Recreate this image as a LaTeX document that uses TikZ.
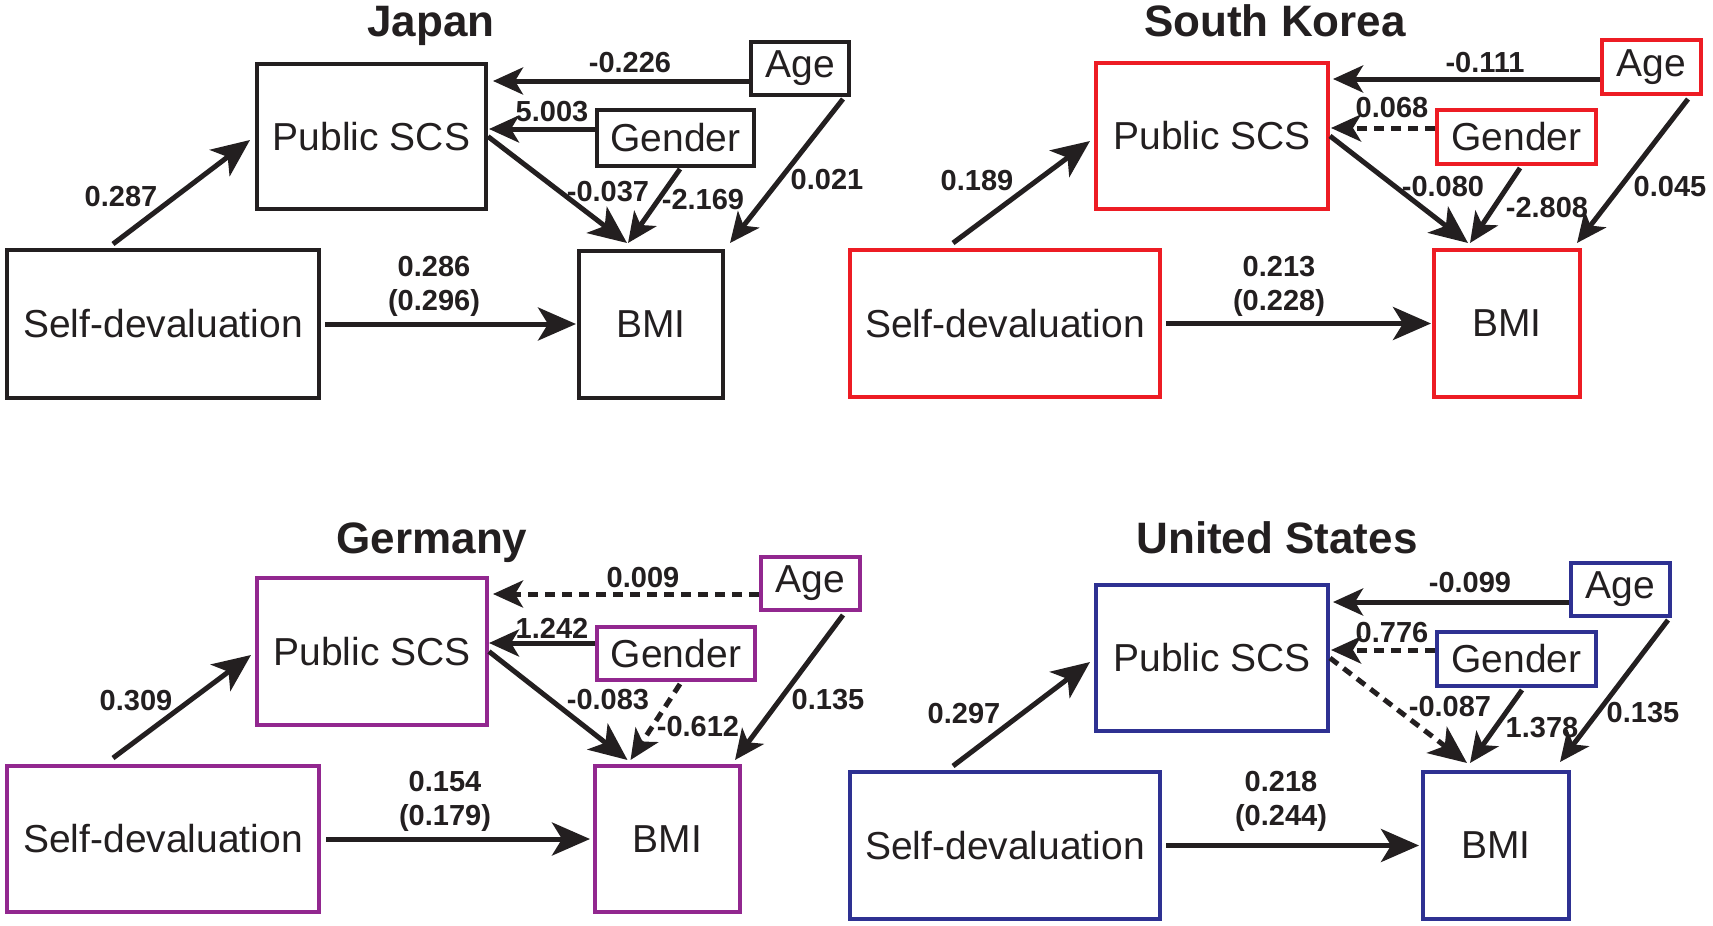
\documentclass[tikz,border=0pt]{standalone}
\usepackage{fontspec}
\setmainfont{Liberation Sans}
\usetikzlibrary{arrows.meta,calc}
\definecolor{ink}{HTML}{231F20}
\definecolor{jc}{HTML}{231F20}
\definecolor{kc}{HTML}{ED1C24}
\definecolor{gc}{HTML}{92278F}
\definecolor{uc}{HTML}{2E3192}
\tikzset{
  bx/.style={draw, line width=4pt, inner sep=0pt, text=ink, font=\fontsize{39}{44}\selectfont},
  arr/.style={draw=ink, line width=5pt, -{Stealth[length=30pt,width=27pt,inset=8pt]}},
  big/.style={draw=ink, line width=5pt, -{Stealth[length=38pt,width=33pt,inset=10pt]}},
  dsh/.style={dash pattern=on 10pt off 7pt},
  lab/.style={text=ink, font=\bfseries\fontsize{29}{33}\selectfont, inner sep=0pt},
  ttl/.style={text=ink, font=\bfseries\fontsize{44}{50}\selectfont, inner sep=0pt, anchor=base},
}
\begin{document}
\begin{tikzpicture}[x=1pt,y=-1pt]
\useasboundingbox (0,0) rectangle (1713,926);

% ---------------- Japan ----------------
\node[ttl] (jt) at (431,36) {Japan};
\node[bx,draw=jc,minimum width=229pt,minimum height=145pt] (jpscs) at (371.5,136.5) {Public SCS};
\node[bx,draw=jc,minimum width=98pt,minimum height=53pt] (jage) at (800,68.5) {Age};
\node[bx,draw=jc,minimum width=157pt,minimum height=56pt] (jgen) at (675.5,138) {Gender};
\node[bx,draw=jc,minimum width=312pt,minimum height=148pt] (jsd) at (163,324) {Self-devaluation};
\node[bx,draw=jc,minimum width=144pt,minimum height=147pt] (jbmi) at (651,324.5) {BMI};
\draw[arr] ($(jage.west)+(0,12.5)$) -- ($(jage.west -| jpscs.east)+(5,12.5)$);
\draw[arr] ($(jgen.west)+(0,-9)$) -- ($(jgen.west -| jpscs.east)+(1,-9)$);
\draw[big] ($(jsd.north)+(-50,-4)$) -- ($(jpscs.west)+(-5,3.5)$);
\draw[big] ($(jsd.east)+(4,0)$) -- ($(jsd.east -| jbmi.west)+(-1,0)$);
\draw[big] (jpscs.east) -- ($(jbmi.north)+(-24,-6)$);
\draw[arr] ($(jgen.south)+(4.5,1)$) -- ($(jbmi.north)+(-23,-6)$);
\draw[arr] ($(jage.south east)+(-8,2)$) -- ($(jbmi.north east)+(5,-6)$);
\node[lab] (jl1) at (630,63) {-0.226};
\node[lab] (jl2) at (552,112) {5.003};
\node[lab] (jl3) at (608,192) {-0.037};
\node[lab] (jl4) at (703,200) {-2.169};
\node[lab] (jl5) at (827,180) {0.021};
\node[lab] (jl6) at (121,197) {0.287};
\node[lab] (jl7) at (434,267) {0.286};
\node[lab] (jl8) at (434,303) {(0.296)};

% ---------------- South Korea ----------------
\node[ttl] (kt) at (1275,36) {South Korea};
\node[bx,draw=kc,minimum width=232pt,minimum height=146pt] (kpscs) at (1212,136) {Public SCS};
\node[bx,draw=kc,minimum width=99pt,minimum height=54pt] (kage) at (1651.5,67) {Age};
\node[bx,draw=kc,minimum width=159pt,minimum height=54pt] (kgen) at (1516.5,137) {Gender};
\node[bx,draw=kc,minimum width=310pt,minimum height=147pt] (ksd) at (1005,323.5) {Self-devaluation};
\node[bx,draw=kc,minimum width=146pt,minimum height=147pt] (kbmi) at (1507,323.5) {BMI};
\draw[arr] ($(kage.west)+(0,12)$) -- ($(kage.west -| kpscs.east)+(3,12)$);
\draw[arr,dsh] ($(kgen.west)+(0,-9)$) -- ($(kgen.west -| kpscs.east)+(1,-9)$);
\draw[big] ($(ksd.north)+(-52,-5)$) -- ($(kpscs.west)+(-4,5)$);
\draw[big] ($(ksd.east)+(4,0)$) -- ($(ksd.east -| kbmi.west)+(-1,0)$);
\draw[big] (kpscs.east) -- ($(kbmi.north)+(-39,-5)$);
\draw[arr] ($(kgen.south)+(3.5,2)$) -- ($(kbmi.north)+(-37,-5)$);
\draw[arr] ($(kage.south east)+(-15,3)$) -- ($(kbmi.north east)+(-5,-5)$);
\node[lab] (kl1) at (1485,63) {-0.111};
\node[lab] (kl2) at (1392,108) {0.068};
\node[lab] (kl3) at (1443,187) {-0.080};
\node[lab] (kl4) at (1547,208) {-2.808};
\node[lab] (kl5) at (1670,187) {0.045};
\node[lab] (kl6) at (977,181) {0.189};
\node[lab] (kl7) at (1279,267) {0.213};
\node[lab] (kl8) at (1279,303) {(0.228)};

% ---------------- Germany ----------------
\node[ttl] (gt) at (432,553) {Germany};
\node[bx,draw=gc,minimum width=230pt,minimum height=147pt] (gpscs) at (372,651.5) {Public SCS};
\node[bx,draw=gc,minimum width=99pt,minimum height=53pt] (gage) at (810.5,583.5) {Age};
\node[bx,draw=gc,minimum width=158pt,minimum height=53pt] (ggen) at (676,653.5) {Gender};
\node[bx,draw=gc,minimum width=312pt,minimum height=146pt] (gsd) at (163,839) {Self-devaluation};
\node[bx,draw=gc,minimum width=145pt,minimum height=146pt] (gbmi) at (667.5,839) {BMI};
\draw[arr,dsh] ($(gage.west)+(0,10.5)$) -- ($(gage.west -| gpscs.east)+(4,10.5)$);
\draw[arr] ($(ggen.west)+(0,-10.5)$) -- ($(ggen.west -| gpscs.east)+(0,-10.5)$);
\draw[big] ($(gsd.north)+(-50,-6)$) -- ($(gpscs.west)+(-4,3.5)$);
\draw[big] ($(gsd.east)+(5,0)$) -- ($(gsd.east -| gbmi.west)+(-3,0)$);
\draw[big] (gpscs.east) -- ($(gbmi.north)+(-40,-4)$);
\draw[arr,dsh] ($(ggen.south)+(4,2)$) -- ($(gbmi.north)+(-37,-4)$);
\draw[arr] ($(gage.south east)+(-19,3)$) -- ($(gbmi.north east)+(-7,-4)$);
\node[lab] (gl1) at (643,578) {0.009};
\node[lab] (gl2) at (552,628) {1.242};
\node[lab] (gl3) at (608,700) {-0.083};
\node[lab] (gl4) at (698,727) {-0.612};
\node[lab] (gl5) at (828,700) {0.135};
\node[lab] (gl6) at (136,701) {0.309};
\node[lab] (gl7) at (445,782) {0.154};
\node[lab] (gl8) at (445,818) {(0.179)};

% ---------------- United States ----------------
\node[ttl] (ut) at (1277,553) {United States};
\node[bx,draw=uc,minimum width=232pt,minimum height=146pt] (upscs) at (1212,658) {Public SCS};
\node[bx,draw=uc,minimum width=99pt,minimum height=53pt] (uage) at (1620.5,589.5) {Age};
\node[bx,draw=uc,minimum width=159pt,minimum height=54pt] (ugen) at (1516.5,659) {Gender};
\node[bx,draw=uc,minimum width=310pt,minimum height=147pt] (usd) at (1005,845.5) {Self-devaluation};
\node[bx,draw=uc,minimum width=146pt,minimum height=147pt] (ubmi) at (1496,845.5) {BMI};
\draw[arr] ($(uage.west)+(0,12.5)$) -- ($(uage.west -| upscs.east)+(3,12.5)$);
\draw[arr,dsh] ($(ugen.west)+(0,-9)$) -- ($(ugen.west -| upscs.east)+(1,-9)$);
\draw[big] ($(usd.north)+(-52,-4)$) -- ($(upscs.west)+(-4,4)$);
\draw[big] ($(usd.east)+(4,0)$) -- ($(usd.east -| ubmi.west)+(-2,0)$);
\draw[big,dsh] (upscs.east) -- ($(ubmi.north)+(-29,-7)$);
\draw[arr] ($(ugen.south)+(5.5,2)$) -- ($(ubmi.north)+(-26,-7)$);
\draw[arr] ($(uage.south east)+(-4,2)$) -- ($(ubmi.north east)+(-11,-8)$);
\node[lab] (ul1) at (1470,583) {-0.099};
\node[lab] (ul2) at (1392,633) {0.776};
\node[lab] (ul3) at (1450,707) {-0.087};
\node[lab] (ul4) at (1542,728) {1.378};
\node[lab] (ul5) at (1643,713) {0.135};
\node[lab] (ul6) at (964,714) {0.297};
\node[lab] (ul7) at (1281,782) {0.218};
\node[lab] (ul8) at (1281,818) {(0.244)};
\end{tikzpicture}
\end{document}
